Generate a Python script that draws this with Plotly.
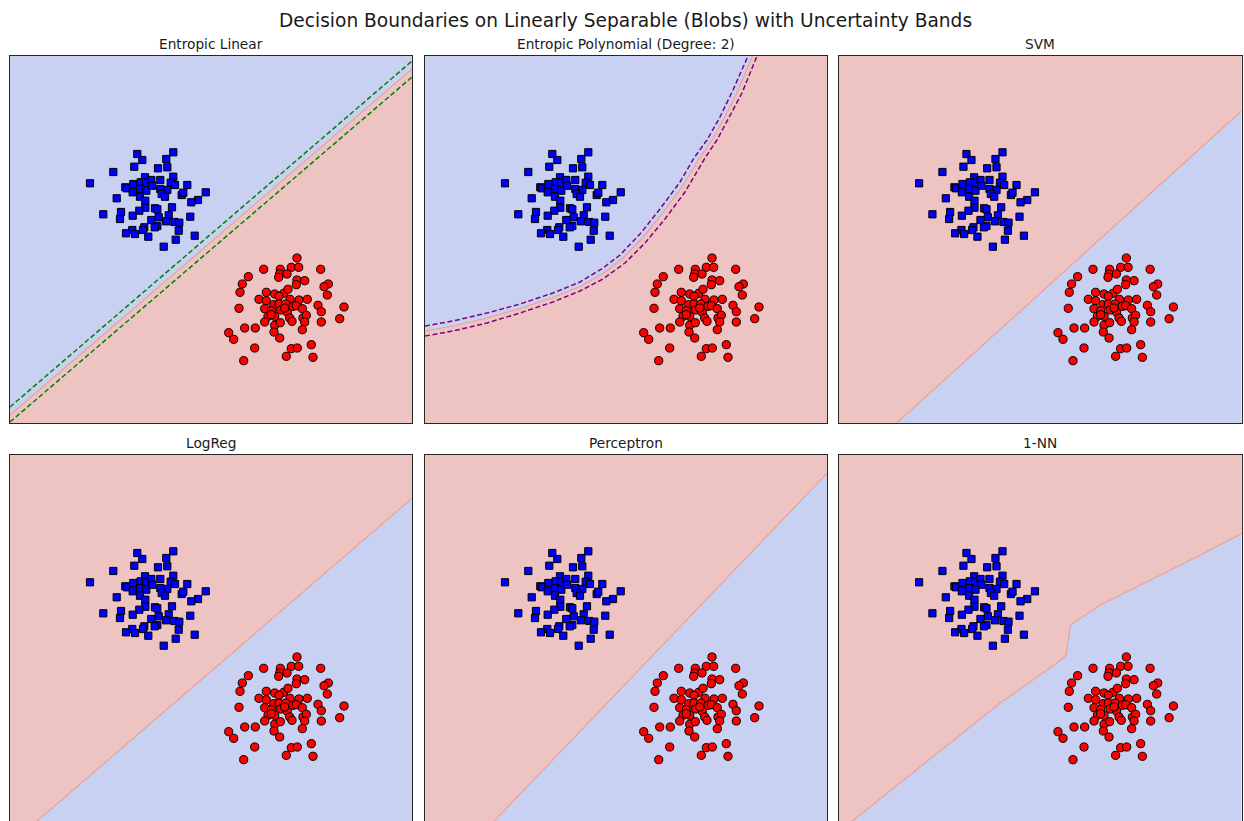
import plotly.graph_objects as go

# ---- sample points (two blobs) ----
blue_x = [-7.27, -3.67, -6.77, -4.37, -7.57, -5.20, -4.27, -9.67, -12.00, -6.50, -3.67, -8.47, -8.30,
          -7.67, -6.93, -6.40, -5.87, -4.97, -3.93, -3.50, -2.27, -7.73, -6.97, -6.37, -5.77, -4.97,
          -4.27, -4.83, -4.50, -2.83, -2.67, -0.43, -9.33, -7.00, -6.47, -1.20, -1.87, -6.47, -7.07,
          -5.50, -5.27, -3.80, -8.90, -10.67, -7.73, -9.00, -5.13, -5.87, -4.13, -1.97, -4.40, -3.57,
          -3.07, -5.27, -5.53, -6.57, -6.70, -7.77, -8.40, -7.50, -3.13, -6.17, -1.53, -3.43, -4.63]
blue_y = [8.60, 8.77, 8.00, 8.10, 7.33, 7.17, 7.27, 6.80, 5.67, 6.27, 6.33, 5.27, 5.17,
          5.60, 5.77, 5.73, 6.00, 6.00, 5.73, 5.50, 5.50, 4.77, 5.10, 4.93, 5.43, 5.10,
          5.00, 4.60, 4.33, 4.50, 4.73, 4.77, 4.17, 4.33, 3.93, 4.00, 3.77, 3.23, 2.93,
          3.17, 3.07, 3.27, 2.80, 2.57, 2.43, 2.10, 2.27, 2.00, 2.47, 2.33, 1.87, 1.80,
          1.73, 1.40, 1.27, 1.27, 1.00, 1.00, 0.67, 0.60, 0.93, 0.33, 0.43, 0.03, -0.67]

red_x = [8.70, 5.37, 7.03, 8.13, 8.87, 11.07, 6.97, 7.70, 6.87, 3.83, 3.23, 8.70, 9.47, 8.63,
         11.83, 11.40, 3.00, 5.63, 6.47, 7.37, 7.80, 11.73, 4.90, 5.63, 6.90, 8.00, 8.90, 9.73,
         6.37, 6.90, 7.57, 8.30, 8.63, 10.80, 2.90, 5.47, 6.13, 7.07, 7.73, 9.23, 11.13, 13.40,
         5.80, 6.47, 7.97, 9.30, 9.63, 12.97, 5.47, 6.47, 7.03, 8.20, 9.47, 11.13, 3.47, 4.53,
         1.87, 2.37, 6.40, 9.23, 6.97, 4.47, 8.13, 8.73, 10.13, 7.63, 10.30, 3.37, 6.13, 7.47]
red_y = [-1.80, -2.93, -2.93, -2.73, -2.73, -2.93, -3.40, -3.40, -3.73, -3.67, -4.40, -4.00, -4.07, -4.47,
         -4.40, -4.67, -5.23, -5.23, -5.40, -5.33, -4.93, -5.50, -5.93, -6.07, -5.63, -5.93, -6.00, -5.93,
         -6.47, -6.40, -6.40, -6.63, -6.57, -6.53, -6.83, -6.87, -7.07, -7.00, -7.23, -6.87, -7.17, -6.70,
         -7.63, -7.63, -7.80, -7.80, -7.53, -7.87, -8.20, -8.53, -8.27, -8.13, -8.20, -8.20, -8.80, -8.80,
         -9.27, -9.93, -9.20, -8.97, -9.80, -10.80, -10.87, -10.80, -10.47, -11.63, -11.73, -12.07, -7.47, -6.80]

# ---- decision boundaries (x, y) per model ----
lin_bx = [-20.0, 20.2]
lin_by = [-17.5, 17.1]
lin_up_x = [-20.0, 20.2]
lin_up_y = [-16.7, 17.9]
lin_lo_x = [-20.0, 20.2]
lin_lo_y = [-18.2, 16.3]

poly_bx = [-20.0, -17.2, -13.8, -10.5, -7.2, -4.5, -2.2, -0.3, 1.7, 3.7, 5.7, 7.45, 8.7, 9.9, 11.25, 12.75]
poly_by = [-9.1, -8.6, -7.8, -6.85, -5.75, -4.65, -3.35, -1.9, 0.15, 2.6, 5.3, 8.2, 10.0, 12.15, 14.85, 18.4]
poly_up_x = [-20.0, -17.2, -13.8, -10.5, -7.2, -4.5, -2.2, -0.5, 1.5, 3.5, 5.5, 6.9, 8.2, 9.5, 10.8, 12.3]
poly_up_y = [-8.6, -8.1, -7.3, -6.4, -5.3, -4.2, -2.8, -1.5, 0.6, 3.1, 5.8, 8.2, 10.0, 12.3, 15.0, 18.4]
poly_lo_x = [-20.0, -17.2, -13.8, -10.5, -7.2, -4.5, -2.2, 0.0, 2.0, 4.0, 6.0, 8.0, 9.2, 10.3, 11.7, 13.2]
poly_lo_y = [-9.6, -9.1, -8.3, -7.3, -6.2, -5.1, -3.9, -2.3, -0.3, 2.1, 4.8, 8.2, 10.0, 12.0, 14.7, 18.4]

svm_bx = [-14.23, 20.2]
svm_by = [-18.3, 12.9]
logreg_bx = [-17.4, 20.2]
logreg_by = [-18.3, 14.07]
perc_bx = [-13.17, 20.2]
perc_by = [-18.3, 16.57]
nn_bx = [-18.8, -3.9, 1.9, 2.7, 3.1, 6.1, 11.1, 16.1, 20.3]
nn_by = [-18.3, -6.4, -2.3, -1.6, 1.4, 3.4, 5.9, 8.4, 10.6]

titles = ["Entropic Linear", "Entropic Polynomial (Degree: 2)", "SVM",
          "LogReg", "Perceptron", "1-NN"]

X_RANGE = [-20.0, 20.2]
Y_RANGE_TOP = [-18.3, 18.4]
Y_RANGE_BOT = [-18.2, 18.4]

BLUE_BG = "#c8d1f1"
RED_BG = "#eec4c2"
EDGE = "#e6a39b"
BIG = 200.0

W, H = 1244, 821
col_px = [(10, 412), (425, 827), (839, 1241.5)]
row_px = [(56, 423), (455, 822)]

panels = [
    dict(bx=lin_bx, by=lin_by, upper=BLUE_BG, lower=RED_BG,
         bands=[(lin_up_x, lin_up_y), (lin_lo_x, lin_lo_y)], band_color="#008000"),
    dict(bx=poly_bx, by=poly_by, upper=BLUE_BG, lower=RED_BG,
         bands=[(poly_up_x, poly_up_y), (poly_lo_x, poly_lo_y)], band_color="#800080"),
    dict(bx=svm_bx, by=svm_by, upper=RED_BG, lower=BLUE_BG, bands=[], band_color=None),
    dict(bx=logreg_bx, by=logreg_by, upper=RED_BG, lower=BLUE_BG, bands=[], band_color=None),
    dict(bx=perc_bx, by=perc_by, upper=RED_BG, lower=BLUE_BG, bands=[], band_color=None),
    dict(bx=nn_bx, by=nn_by, upper=RED_BG, lower=BLUE_BG, bands=[], band_color=None),
]

fig = go.Figure()
layout = {}

for i, p in enumerate(panels):
    r, c = divmod(i, 3)
    n = i + 1
    xa = "x" if n == 1 else f"x{n}"
    ya = "y" if n == 1 else f"y{n}"
    x0, x1 = col_px[c]
    y0, y1 = row_px[r]
    yr = Y_RANGE_TOP if r == 0 else Y_RANGE_BOT

    layout["xaxis" if n == 1 else f"xaxis{n}"] = dict(
        domain=[x0 / W, x1 / W], range=X_RANGE, anchor=ya,
        showticklabels=False, ticks="", showgrid=False, zeroline=False,
        showline=True, linecolor="#262626", linewidth=1, mirror=True, fixedrange=True)
    layout["yaxis" if n == 1 else f"yaxis{n}"] = dict(
        domain=[max(0.0, 1 - y1 / H), 1 - y0 / H], range=yr, anchor=xa,
        showticklabels=False, ticks="", showgrid=False, zeroline=False,
        showline=True, linecolor="#262626", linewidth=1, mirror=True, fixedrange=True)

    # lower-right class region (whole plot area)
    fig.add_trace(go.Scatter(
        x=[-BIG, BIG, BIG, -BIG], y=[-BIG, -BIG, BIG, BIG], fill="toself",
        fillcolor=p["lower"], line=dict(width=0), mode="lines",
        hoverinfo="skip", showlegend=False, xaxis=xa, yaxis=ya))
    # upper-left class region, bounded by the decision boundary
    px_ = list(p["bx"]) + [p["bx"][-1], -BIG, -BIG]
    py_ = list(p["by"]) + [BIG, BIG, p["by"][0]]
    fig.add_trace(go.Scatter(
        x=px_, y=py_, fill="toself", fillcolor=p["upper"], line=dict(width=0),
        mode="lines", hoverinfo="skip", showlegend=False, xaxis=xa, yaxis=ya))
    # boundary edge
    fig.add_trace(go.Scatter(
        x=p["bx"], y=p["by"], mode="lines", line=dict(color=EDGE, width=1.2),
        hoverinfo="skip", showlegend=False, xaxis=xa, yaxis=ya))
    # uncertainty bands
    for bx, by in p["bands"]:
        fig.add_trace(go.Scatter(
            x=bx, y=by, mode="lines",
            line=dict(color=p["band_color"], width=1.5, dash="5px,2.6px"),
            hoverinfo="skip", showlegend=False, xaxis=xa, yaxis=ya))
    # samples
    fig.add_trace(go.Scatter(
        x=blue_x, y=blue_y, mode="markers",
        marker=dict(symbol="square", size=7.2, color="#0000ff",
                    line=dict(color="black", width=1)),
        showlegend=False, xaxis=xa, yaxis=ya))
    fig.add_trace(go.Scatter(
        x=red_x, y=red_y, mode="markers",
        marker=dict(symbol="circle", size=8.2, color="#ff0000",
                    line=dict(color="black", width=1)),
        showlegend=False, xaxis=xa, yaxis=ya))

annotations = [dict(
    text="Decision Boundaries on Linearly Separable (Blobs) with Uncertainty Bands",
    x=625 / W, y=1 - 20 / H, xref="paper", yref="paper", showarrow=False,
    xanchor="center", yanchor="middle",
    font=dict(family="DejaVu Sans", size=18.6, color="#1a1a1a"))]
title_rows = [44, 443]
for i, t in enumerate(titles):
    r, c = divmod(i, 3)
    x0, x1 = col_px[c]
    annotations.append(dict(
        text=t, x=(x0 + x1) / 2 / W, y=1 - title_rows[r] / H, xref="paper", yref="paper",
        showarrow=False, xanchor="center", yanchor="middle",
        font=dict(family="DejaVu Sans", size=13.7, color="#1a1a1a")))

fig.update_layout(
    width=W, height=H, margin=dict(l=0, r=0, t=0, b=0),
    paper_bgcolor="white", plot_bgcolor="white",
    annotations=annotations, **layout)

fig.write_html("out.html")
